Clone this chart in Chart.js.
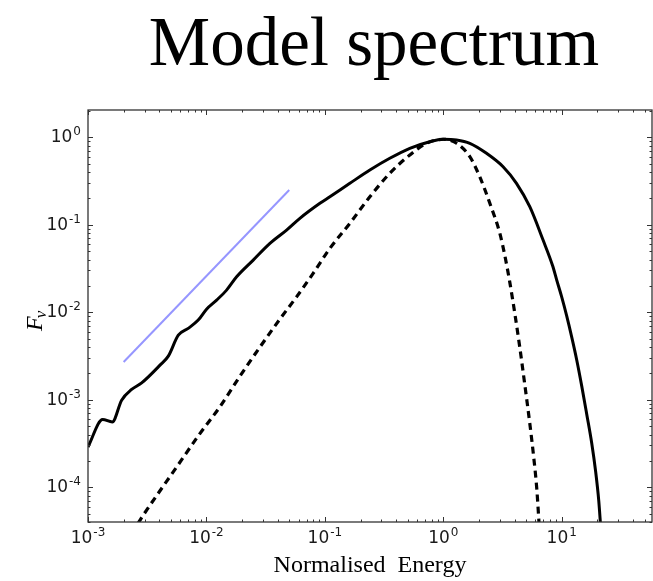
<!DOCTYPE html>
<html>
<head>
<meta charset="utf-8">
<script src="https://cdn.jsdelivr.net/npm/chart.js@4/dist/chart.umd.min.js"></script>
<style>
  html, body { margin: 0; padding: 0; background: #fff; overflow: hidden; }
  #wrap { width: 653px; height: 581px; }
</style>
</head>
<body>
<div id="wrap"><canvas id="c" width="653" height="581"></canvas></div>
<script>
// Texts
const titleText = 'Model spectrum';
const xAxisTitle = 'Normalised  Energy';
const yAxisSymbol = 'F';
const yAxisSubscript = 'ν';

// Decade exponents used for the tick labels (10^n)
const xTickExponents = [-3, -2, -1, 0, 1];
const yTickExponents = [-4, -3, -2, -1, 0];

// Axis limits
const xLimits = [1e-3, 57.8];
const yLimits = [4.0e-5, 2.05];

// Full model spectrum (solid)
const solidEnergy = [0.001, 0.00133, 0.001603, 0.001923, 0.002337, 0.002838, 0.004055, 0.004765,
  0.005787, 0.007021, 0.008524, 0.01002, 0.01219, 0.01479, 0.01798, 0.02483, 0.03435, 0.0475,
  0.0615, 0.09078, 0.1102, 0.1625, 0.2398, 0.3532, 0.5212, 0.7691, 0.996, 1.292, 1.674, 2.316,
  3.197, 4.147, 5.37, 6.954, 8.39, 9.07, 10.0, 11.02, 12.14, 13.39, 14.75, 16.25, 17.91, 19.36,
  20.52, 21.33];
const solidFlux = [2.88e-4, 5.94e-4, 5.57e-4, 9.87e-4, 1.309e-3, 1.556e-3, 2.483e-3, 3.147e-3,
  5.47e-3, 6.53e-3, 8.13e-3, 0.01084, 0.01376, 0.0179, 0.02541, 0.03945, 0.06124, 0.08696,
  0.1184, 0.1758, 0.2091, 0.2978, 0.4225, 0.575, 0.7485, 0.8906, 0.9487, 0.9314, 0.8537, 0.6561,
  0.4609, 0.2976, 0.1607, 0.0668, 0.0337, 0.02328, 0.01489, 9.02e-3, 5.19e-3, 2.83e-3, 1.43e-3,
  6.83e-4, 3.18e-4, 1.48e-4, 7.08e-5, 3.47e-5];

// Single-temperature component (dashed)
const dashedEnergy = [0.002642, 0.002931, 0.005598, 0.00881, 0.013, 0.01918, 0.02827, 0.04169,
  0.05768, 0.07962, 0.1102, 0.1625, 0.2398, 0.3532, 0.5212, 0.7211, 0.996, 1.292, 1.674, 2.03,
  2.47, 3.0, 3.3, 3.64, 4.01, 4.42, 4.87, 5.37, 5.81, 6.15, 6.46];
const dashedFlux = [3.86e-5, 4.8e-5, 1.698e-4, 4.1e-4, 8.3e-4, 1.858e-3, 3.99e-3, 8.34e-3,
  0.015, 0.0278, 0.0537, 0.1038, 0.209, 0.3873, 0.6272, 0.8537, 0.9487, 0.8537, 0.6, 0.354,
  0.176, 0.0798, 0.045, 0.0221, 9.77e-3, 3.99e-3, 1.5e-3, 5.38e-4, 2.14e-4, 9.7e-5, 3.5e-5];

// Reference power-law slope
const slopeEnergy = [0.002, 0.05];
const slopeFlux = [0.0027, 0.25];

const pts = (xs, ys) => xs.map((x, i) => ({ x, y: ys[i] }));

const FRAME = '#333333';

// Draws the boxed frame, inward minor/major ticks on all sides,
// 10^n tick labels, the title and the F_nu axis label.
const decorations = {
  id: 'decorations',
  afterDatasetsDraw(chart) {
    const { ctx, chartArea: a, scales } = chart;
    const xs = scales.x, ys = scales.y;
    ctx.save();

    // frame
    ctx.strokeStyle = FRAME;
    ctx.lineWidth = 1.3;
    ctx.strokeRect(a.left, a.top, a.right - a.left, a.bottom - a.top);

    // ticks
    ctx.lineWidth = 1;
    const majorLen = 5, minorLen = 2.5;
    const tickValues = (lo, hi) => {
      const out = [];
      for (let e = Math.floor(Math.log10(lo)); e <= Math.ceil(Math.log10(hi)); e++) {
        for (let m = 1; m <= 9; m++) {
          const v = m * Math.pow(10, e);
          if (v >= lo * 0.999 && v <= hi * 1.001) out.push({ v, major: m === 1 });
        }
      }
      return out;
    };
    ctx.beginPath();
    tickValues(xLimits[0], xLimits[1]).forEach(t => {
      const px = Math.round(xs.getPixelForValue(t.v)) + 0.5;
      const L = t.major ? majorLen : minorLen;
      ctx.moveTo(px, a.bottom); ctx.lineTo(px, a.bottom - L);
      ctx.moveTo(px, a.top); ctx.lineTo(px, a.top + L);
    });
    tickValues(yLimits[0], yLimits[1]).forEach(t => {
      const py = Math.round(ys.getPixelForValue(t.v)) + 0.5;
      const L = t.major ? majorLen : minorLen;
      ctx.moveTo(a.left, py); ctx.lineTo(a.left + L, py);
      ctx.moveTo(a.right, py); ctx.lineTo(a.right - L, py);
    });
    ctx.stroke();

    // 10^n labels
    const baseFont = '17px "DejaVu Sans"';
    const expFont = '12px "DejaVu Sans"';
    const powLabel = (n, x, baseline, align) => {
      const expText = n < 0 ? '-' + Math.abs(n) : String(n);
      ctx.font = baseFont;
      const wb = ctx.measureText('10').width;
      ctx.font = expFont;
      const we = ctx.measureText(expText).width + 1;
      const w = wb + we;
      const x0 = align === 'center' ? x - w / 2 : x - w;
      ctx.fillStyle = '#1a1a1a';
      ctx.textAlign = 'left';
      ctx.textBaseline = 'alphabetic';
      ctx.font = baseFont;
      ctx.fillText('10', x0, baseline);
      ctx.font = expFont;
      ctx.fillText(expText, x0 + wb + 1, baseline - 7);
    };
    xTickExponents.forEach(n => {
      powLabel(n, xs.getPixelForValue(Math.pow(10, n)), a.bottom + 21, 'center');
    });
    yTickExponents.forEach(n => {
      powLabel(n, a.left - 7, ys.getPixelForValue(Math.pow(10, n)) + 5, 'right');
    });

    // title
    ctx.fillStyle = '#000';
    ctx.font = '69px "Liberation Serif"';
    ctx.textAlign = 'center';
    ctx.textBaseline = 'alphabetic';
    ctx.fillText(titleText, (a.left + a.right) / 2 + 4, 65);

    // y-axis label F_nu
    ctx.save();
    ctx.translate(42, 331);
    ctx.rotate(-Math.PI / 2);
    ctx.textAlign = 'left';
    ctx.font = 'italic 24px "Liberation Serif"';
    ctx.fillText(yAxisSymbol, 0, 0);
    const fw = ctx.measureText(yAxisSymbol).width;
    ctx.font = 'italic 17px "Liberation Serif"';
    ctx.fillText(yAxisSubscript, fw - 2, 4);
    ctx.restore();

    ctx.restore();
  }
};

new Chart(document.getElementById('c'), {
  type: 'line',
  data: {
    datasets: [
      {
        label: 'model',
        data: pts(solidEnergy, solidFlux),
        borderColor: '#000',
        borderWidth: 3,
        pointRadius: 0,
        cubicInterpolationMode: 'monotone',
        fill: false,
        clip: 0
      },
      {
        label: 'component',
        data: pts(dashedEnergy, dashedFlux),
        borderColor: '#000',
        borderWidth: 3.2,
        borderDash: [7, 5],
        pointRadius: 0,
        cubicInterpolationMode: 'monotone',
        fill: false,
        clip: 0
      },
      {
        label: 'slope',
        data: pts(slopeEnergy, slopeFlux),
        borderColor: 'rgb(150,150,255)',
        borderWidth: 2,
        pointRadius: 0,
        fill: false,
        clip: 0
      }
    ]
  },
  options: {
    responsive: false,
    animation: false,
    devicePixelRatio: 1,
    layout: { padding: { top: 110, right: 1, left: 0, bottom: 0 } },
    plugins: {
      legend: { display: false },
      tooltip: { enabled: false },
      title: { display: false }
    },
    scales: {
      x: {
        type: 'logarithmic',
        position: 'bottom',
        min: xLimits[0],
        max: xLimits[1],
        grid: { display: false },
        border: { display: false },
        ticks: { display: false },
        title: {
          display: true,
          text: xAxisTitle,
          color: '#000',
          font: { family: 'Liberation Serif', size: 24 },
          padding: { top: 0, bottom: 1 }
        },
        afterFit: s => { s.height = 59; }
      },
      y: {
        type: 'logarithmic',
        position: 'left',
        min: yLimits[0],
        max: yLimits[1],
        grid: { display: false },
        border: { display: false },
        ticks: { display: false },
        afterFit: s => { s.width = 88; }
      }
    }
  },
  plugins: [decorations]
});
</script>
</body>
</html>
